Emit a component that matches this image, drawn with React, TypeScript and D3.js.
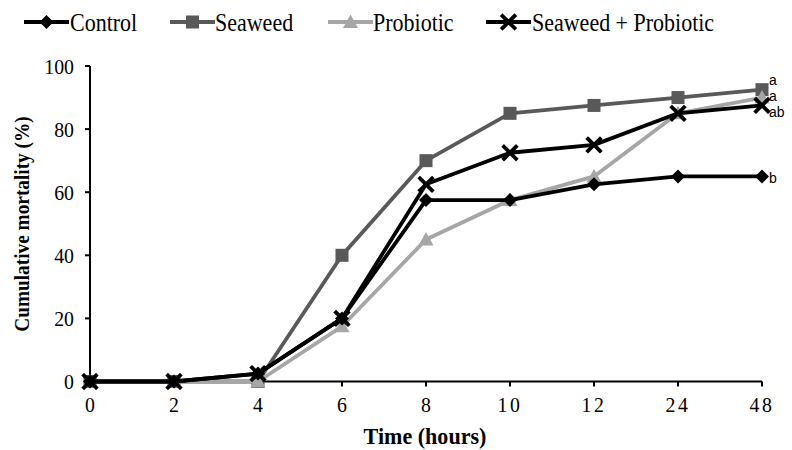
import React from "react";
import * as d3 from "d3";

const categories = ["0", "2", "4", "6", "8", "10", "12", "24", "48"];
const controlValues = [0, 0, 2.5, 20, 57.5, 57.5, 62.5, 65, 65];
const seaweedValues = [0, 0, 0, 40, 70, 85, 87.5, 90, 92.5];
const probioticValues = [0, 0, 0, 17.5, 45, 57.5, 65, 85, 90];
const comboValues = [0, 0, 2.5, 20, 62.5, 72.5, 75, 85, 87.5];
const yTicks = [0, 20, 40, 60, 80, 100];
const seriesNames = ["Control", "Seaweed", "Probiotic", "Seaweed + Probiotic"];
const letters = ["a", "a", "ab", "b"];

type Series = { name: string; values: number[]; color: string; marker: string };

const series: Series[] = [
  { name: seriesNames[0], values: controlValues, color: "#000000", marker: "diamond" },
  { name: seriesNames[1], values: seaweedValues, color: "#595959", marker: "square" },
  { name: seriesNames[2], values: probioticValues, color: "#a6a6a6", marker: "triangle" },
  { name: seriesNames[3], values: comboValues, color: "#000000", marker: "x" },
];
const drawOrder = [1, 2, 0, 3];

const W = 792, H = 450;
const x0 = 90, x1 = 762, yTop = 66, yBot = 381.5;
const SERIF = "'Liberation Serif', 'Times New Roman', serif";
const SANS = "'Liberation Sans', Arial, sans-serif";

function Marker({ type, cx, cy, color }: { type: string; cx: number; cy: number; color: string }) {
  if (type === "diamond") {
    const s = 7;
    return <path d={`M${cx},${cy - s}L${cx + s},${cy}L${cx},${cy + s}L${cx - s},${cy}Z`} fill={color} />;
  }
  if (type === "square") {
    const s = 6.5;
    return <rect x={cx - s} y={cy - s} width={2 * s} height={2 * s} fill={color} />;
  }
  if (type === "triangle") {
    const s = 7.5;
    return <path d={`M${cx},${cy - s}L${cx + s},${cy + s * 0.8}L${cx - s},${cy + s * 0.8}Z`} fill={color} />;
  }
  const s = 6;
  return (
    <path
      d={`M${cx - s},${cy - s}L${cx + s},${cy + s}M${cx - s},${cy + s}L${cx + s},${cy - s}`}
      stroke={color}
      strokeWidth={3.8}
      strokeLinecap="square"
    />
  );
}

export default function App() {
  const x = d3.scalePoint<string>().domain(categories).range([x0, x1]);
  const y = d3.scaleLinear().domain([0, 100]).range([yBot, yTop]);
  const line = d3
    .line<number>()
    .x((_, i) => x(categories[i]) as number)
    .y((d) => y(d));

  const legendItems = [
    { lx: 24, tx: 70 },
    { lx: 170, tx: 215 },
    { lx: 328, tx: 373 },
    { lx: 486, tx: 532 },
  ];
  const legendY = 22;
  const letterYs = [80, 96, 112, 178];

  return (
    <svg
      width={W}
      height={H}
      style={{ position: "absolute", left: 0, top: 0, background: "#fff" }}
    >
      <rect width={W} height={H} fill="#fff" />
      {/* Legend */}
      {series.map((s, i) => {
        const it = legendItems[i];
        return (
          <g key={s.name}>
            <line x1={it.lx} x2={it.lx + 45} y1={legendY} y2={legendY} stroke={s.color} strokeWidth={4} />
            <Marker type={s.marker} cx={it.lx + 22.5} cy={legendY} color={s.color} />
            <text
              transform={`translate(${it.tx},${legendY + 8.5}) scale(0.88,1)`}
              fontFamily={SERIF}
              fontSize={25}
              fill="#000"
            >
              {s.name}
            </text>
          </g>
        );
      })}
      {/* Y axis */}
      <line x1={x0} x2={x0} y1={yTop} y2={yBot} stroke="#000" strokeWidth={2} />
      {yTicks.map((t) => (
        <g key={t}>
          <line x1={x0 - 5} x2={x0} y1={y(t)} y2={y(t)} stroke="#000" strokeWidth={2} />
          <text
            transform={`translate(${x0 - 16},${y(t) + 7.5}) scale(0.9,1)`}
            textAnchor="end"
            fontFamily={SERIF}
            fontSize={22}
            fill="#000"
          >
            {t}
          </text>
        </g>
      ))}
      {/* X axis */}
      <line x1={x0} x2={x1} y1={yBot} y2={yBot} stroke="#000" strokeWidth={2} />
      {categories.map((c) => (
        <g key={c}>
          <line x1={x(c)} x2={x(c)} y1={yBot} y2={yBot + 5} stroke="#000" strokeWidth={2} />
          <text
            transform={`translate(${x(c)},${yBot + 30}) scale(0.9,1)`}
            textAnchor="middle"
            fontFamily={SERIF}
            fontSize={22}
            letterSpacing={c.length > 1 ? 3 : 0}
            fill="#000"
          >
            {c}
          </text>
        </g>
      ))}
      {/* Axis titles */}
      <text
        transform={`translate(425,444) scale(0.92,1)`}
        textAnchor="middle"
        fontFamily={SERIF}
        fontWeight="bold"
        fontSize={24}
        fill="#000"
      >
        Time (hours)
      </text>
      <text
        transform={`translate(29,224) rotate(-90) scale(0.92,1)`}
        textAnchor="middle"
        fontFamily={SERIF}
        fontWeight="bold"
        fontSize={21}
        fill="#000"
      >
        Cumulative mortality (%)
      </text>
      {/* Series */}
      {drawOrder.map((si) => {
        const s = series[si];
        return (
          <g key={s.name}>
            <path d={line(s.values) || ""} fill="none" stroke={s.color} strokeWidth={3.8} strokeLinejoin="round" />
            {s.values.map((v, i) => (
              <Marker key={i} type={s.marker} cx={x(categories[i]) as number} cy={y(v)} color={s.color} />
            ))}
          </g>
        );
      })}
      {/* Significance letters */}
      {letters.map((l, i) => (
        <text
          key={i}
          x={769}
          y={letterYs[i] + 5}
          fontFamily={SANS}
          fontSize={14}
          fill="#000"
        >
          {l}
        </text>
      ))}
    </svg>
  );
}
